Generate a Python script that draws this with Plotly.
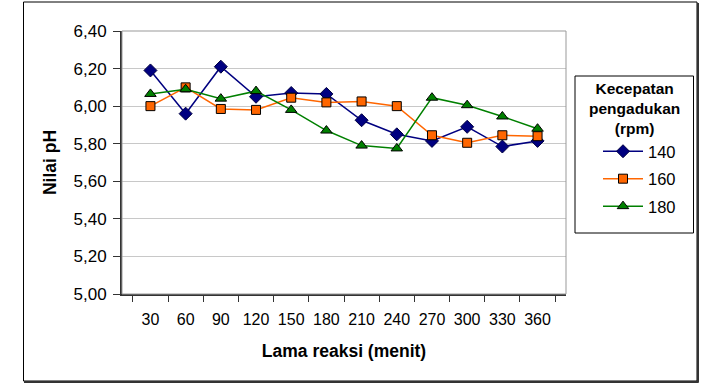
import plotly.graph_objects as go

waktu = ["30", "60", "90", "120", "150", "180", "210", "240", "270", "300", "330", "360"]
ph_140 = [6.19, 5.96, 6.21, 6.05, 6.07, 6.065, 5.925, 5.85, 5.815, 5.89, 5.785, 5.815]
ph_160 = [6.00, 6.10, 5.985, 5.98, 6.045, 6.02, 6.025, 6.00, 5.845, 5.805, 5.845, 5.84]
ph_180 = [6.065, 6.09, 6.04, 6.08, 5.98, 5.87, 5.79, 5.775, 6.045, 6.005, 5.945, 5.88]
y_ticks = [5.0, 5.2, 5.4, 5.6, 5.8, 6.0, 6.2, 6.4]
legend_title = ["Kecepatan", "pengadukan", "(rpm)"]

FONT = "Liberation Sans, Arial, sans-serif"

fig = go.Figure()
fig.add_trace(go.Scatter(
    x=waktu, y=ph_140, name="140", mode="lines+markers",
    line=dict(color="#000080", width=1.5),
    marker=dict(symbol="diamond", size=10, color="#000080", line=dict(color="#000040", width=1)),
    legendgroup="a"))
fig.add_trace(go.Scatter(
    x=waktu, y=ph_160, name="160", mode="lines+markers",
    line=dict(color="#FF6600", width=1.5),
    marker=dict(symbol="square", size=9, color="#FF6600", line=dict(color="#000000", width=1)),
    legendgroup="b"))
fig.add_trace(go.Scatter(
    x=waktu, y=ph_180, name="180", mode="lines+markers",
    line=dict(color="#008000", width=1.5),
    marker=dict(symbol="triangle-up", size=10, color="#008000", line=dict(color="#000000", width=1)),
    legendgroup="c"))

L, R, T, B = 122, 140, 31, 90
W, H = 706, 384
pw, ph = W - L - R, H - T - B

def px(xp):
    return (xp - L) / pw

def py(yp):
    return (H - B - yp) / ph

shapes = [
    dict(type="rect", xref="paper", yref="paper", x0=px(23.5), x1=px(697), y0=py(381), y1=py(2),
         line=dict(color="#000000", width=1), layer="below"),
    dict(type="line", xref="paper", yref="paper", x0=px(24), x1=px(698.5), y0=py(382), y1=py(382),
         line=dict(color="#333333", width=2)),
    dict(type="line", xref="paper", yref="paper", x0=px(698), x1=px(698), y0=py(3), y1=py(382.5),
         line=dict(color="#333333", width=2)),
    dict(type="rect", xref="paper", yref="paper", x0=px(575), x1=px(693.5), y0=py(233), y1=py(76),
         line=dict(color="#000000", width=1)),
    dict(type="rect", xref="paper", yref="paper", x0=0, x1=1, y0=0, y1=1,
         line=dict(color="#999999", width=1)),
]

annotations = [dict(
    xref="paper", yref="paper", x=px(634), y=py(78), xanchor="center", yanchor="top",
    text="<br>".join("<b>" + t + "</b>" for t in legend_title), showarrow=False,
    align="center", font=dict(family=FONT, size=15.5))]

fig.update_layout(
    width=W, height=H,
    margin=dict(l=L, r=R, t=T, b=B),
    paper_bgcolor="white", plot_bgcolor="white",
    separators=",.",
    font=dict(family=FONT, size=17, color="#000000"),
    shapes=shapes,
    annotations=annotations,
    showlegend=True,
    legend=dict(
        x=px(598), xanchor="left", y=py(134), yanchor="top",
        bgcolor="rgba(0,0,0,0)", borderwidth=0,
        font=dict(family=FONT, size=16.5),
        tracegroupgap=3, itemwidth=40,
    ),
    xaxis=dict(
        type="category", tickson="boundaries", ticks="outside", ticklen=6,
        tickcolor="#333333", showline=True, linecolor="#333333", linewidth=2,
        showgrid=False, tickfont=dict(size=16), tickangle=0, ticklabelstandoff=10,
        title=dict(text="<b>Lama reaksi (menit)</b>", font=dict(size=17.5), standoff=18),
    ),
    yaxis=dict(
        range=[5.0, 6.4], tickvals=y_ticks, tickformat=".2f",
        ticks="outside", ticklen=7, tickcolor="#333333",
        showline=True, linecolor="#333333", linewidth=2,
        showgrid=True, gridcolor="#C8C8C8", gridwidth=1,
        zeroline=False, tickfont=dict(size=17), ticklabelstandoff=3,
        title=dict(text="<b>Nilai pH</b>", font=dict(size=17.5), standoff=12),
    ),
)

fig.write_html("out.html")
